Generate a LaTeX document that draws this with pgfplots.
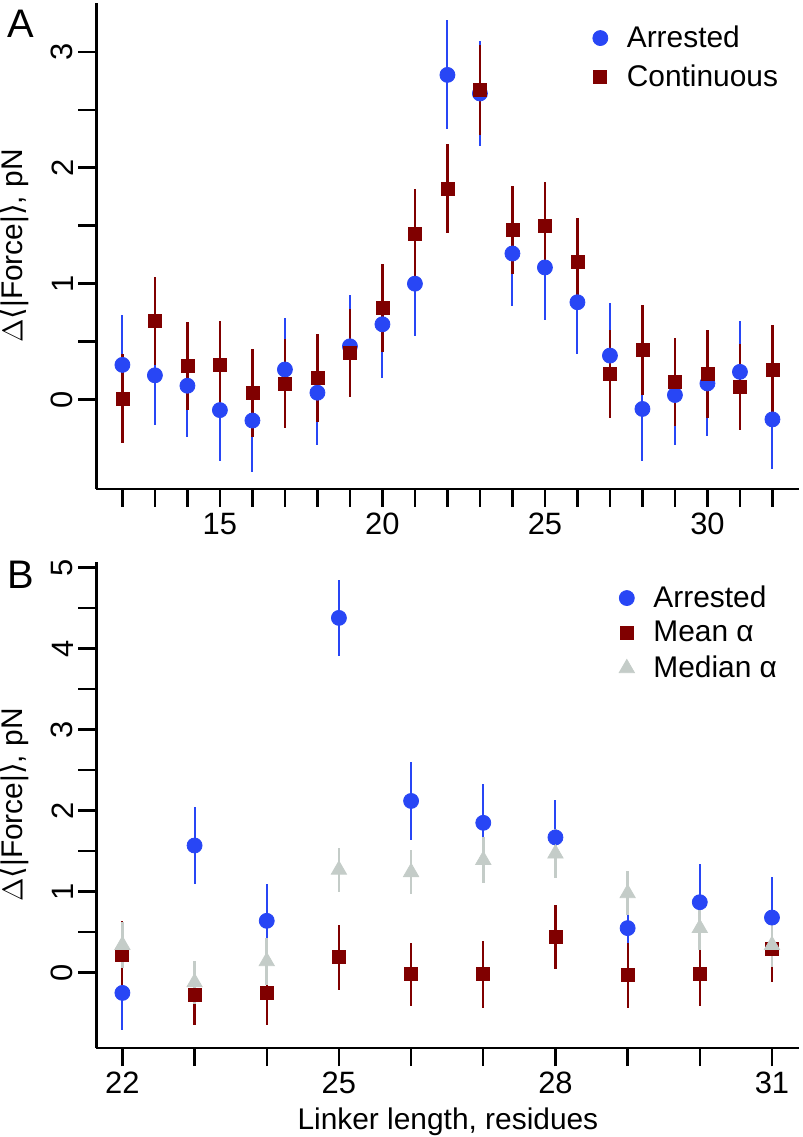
\documentclass[border=0pt]{standalone}
\usepackage{fontspec}
\setmainfont{Liberation Sans}
\newfontfamily\dejavu{DejaVu Sans}
\usepackage{pgfplots}
\pgfplotsset{compat=1.18}

\definecolor{arrblue}{RGB}{40,70,245}
\definecolor{contred}{RGB}{128,0,0}
\definecolor{medgrey}{RGB}{196,204,200}

\newcommand{\lab}{\fontsize{15}{18}\selectfont}

\pgfplotsset{
  rstyle/.style={
    scale only axis, width=351.5bp, height=243bp,
    axis x line*=bottom, axis y line*=left,
    axis line style={line width=1.2bp, -},
    tick align=outside, major tick length=9bp, minor tick length=9bp,
    tick style={line width=1.2bp, black},
    tick label style={font=\fontsize{15.5}{18}\selectfont, inner sep=0pt},
    /pgf/number format/assume math mode=true,
    yticklabel style={rotate=90, anchor=south},
    yticklabel shift=2.5bp,
    xticklabel style={anchor=north},
    xticklabel shift=3bp,
    label style={font=\lab, inner sep=0pt},
    ylabel={\(\Delta\){\dejavu ⟨}|Force|{\dejavu ⟩}, pN},
    ylabel style={at={(axis description cs:-0.0953,0.5)}, anchor=south},
    clip=false,
    legend cell align=left,
    legend style={draw=none, fill=none, font=\lab, inner sep=0pt,
      nodes={inner sep=0pt},
      /tikz/every odd column/.append style={column sep=9.5bp},
      anchor=north west},
  },
  blueplot/.style={only marks, mark=*, mark size=3.75bp, color=arrblue,
    mark options={draw=none},
    error bars/.cd, y dir=both, y explicit, error mark=none,
    error bar style={line width=1bp, arrblue}},
  redplot/.style={only marks, mark=square*, mark size=3.25bp, color=contred,
    mark options={draw=none},
    error bars/.cd, y dir=both, y explicit, error mark=none,
    error bar style={line width=1.1bp, contred}},
  greyplot/.style={only marks, mark=triangle*, mark size=4.4bp, color=medgrey,
    mark options={draw=none},
    error bars/.cd, y dir=both, y explicit, error mark=none,
    error bar style={line width=1.4bp, medgrey}},
}

\begin{document}
\begin{tikzpicture}
\path (0,0) rectangle (398bp,568.5bp);

% Panel A
\begin{axis}[rstyle, at={(45bp,324bp)}, anchor=south west,
  xmin=11.2, xmax=32.83, ymin=-0.77, ymax=3.42,
  xtick={15,20,25,30}, minor xtick={12,...,32},
  ytick={0,1,2,3}, minor ytick={0.5,1.5,2.5},
  legend style={at={(rel axis cs:0.7056,0.954)}, row sep=7.3bp},
]
\addplot[blueplot] table[x=x, y=y, y error=e] {
x y e
12 0.30 0.43
13 0.21 0.43
14 0.12 0.44
15 -0.09 0.44
16 -0.18 0.44
17 0.26 0.44
18 0.06 0.45
19 0.46 0.44
20 0.65 0.46
21 1.00 0.45
22 2.80 0.47
23 2.64 0.45
24 1.26 0.45
25 1.14 0.45
26 0.84 0.45
27 0.38 0.45
28 -0.08 0.45
29 0.04 0.43
30 0.14 0.45
31 0.24 0.44
32 -0.17 0.43
};
\addlegendentry{Arrested}
\addplot[redplot] table[x=x, y=y, y error=e] {
x y e
12 0.01 0.38
13 0.68 0.38
14 0.29 0.38
15 0.30 0.38
16 0.06 0.38
17 0.14 0.38
18 0.19 0.38
19 0.40 0.38
20 0.79 0.38
21 1.43 0.39
22 1.82 0.38
23 2.67 0.39
24 1.46 0.38
25 1.50 0.38
26 1.19 0.38
27 0.22 0.38
28 0.43 0.39
29 0.15 0.38
30 0.22 0.38
31 0.11 0.37
32 0.26 0.38
};
\addlegendentry{Continuous}
\end{axis}

% Panel B
\begin{axis}[rstyle, at={(45bp,44.5bp)}, anchor=south west,
  xmin=21.64, xmax=31.38, ymin=-0.93, ymax=5.07,
  xtick={22,25,28,31}, minor xtick={22,...,31},
  ytick={0,...,5}, minor ytick={0.5,1.5,...,4.5},
  xlabel={Linker length, residues},
  xlabel style={at={(axis description cs:0.5,-0.1214)}, anchor=north},
  legend style={at={(rel axis cs:0.7431,0.952)}, row sep=5.5bp},
]
\addplot[blueplot] table[x=x, y=y, y error=e] {
x y e
22 -0.25 0.46
23 1.57 0.47
24 0.64 0.46
25 4.38 0.47
26 2.12 0.48
27 1.85 0.48
28 1.67 0.46
29 0.55 0.46
30 0.87 0.47
31 0.68 0.50
};
\addlegendentry{Arrested}
\addplot[redplot] table[x=x, y=y, y error=e] {
x y e
22 0.22 0.42
23 -0.27 0.38
24 -0.25 0.39
25 0.19 0.40
26 -0.02 0.39
27 -0.02 0.41
28 0.44 0.39
29 -0.03 0.40
30 -0.02 0.39
31 0.29 0.40
};
\addlegendentry{Mean α}
\addplot[greyplot] table[x=x, y=y, y error=e] {
x y e
22 0.34 0.28
23 -0.12 0.27
24 0.14 0.29
25 1.27 0.27
26 1.24 0.27
27 1.39 0.28
28 1.47 0.30
29 0.98 0.27
30 0.55 0.27
31 0.34 0.27
};
\addlegendentry{Median α}
\end{axis}

\node[font=\fontsize{20}{24}\selectfont, inner sep=0pt] at (7.25bp,556.5bp) {A};
\node[font=\fontsize{20}{24}\selectfont, inner sep=0pt] at (7.25bp,281.25bp) {B};
\end{tikzpicture}
\end{document}
